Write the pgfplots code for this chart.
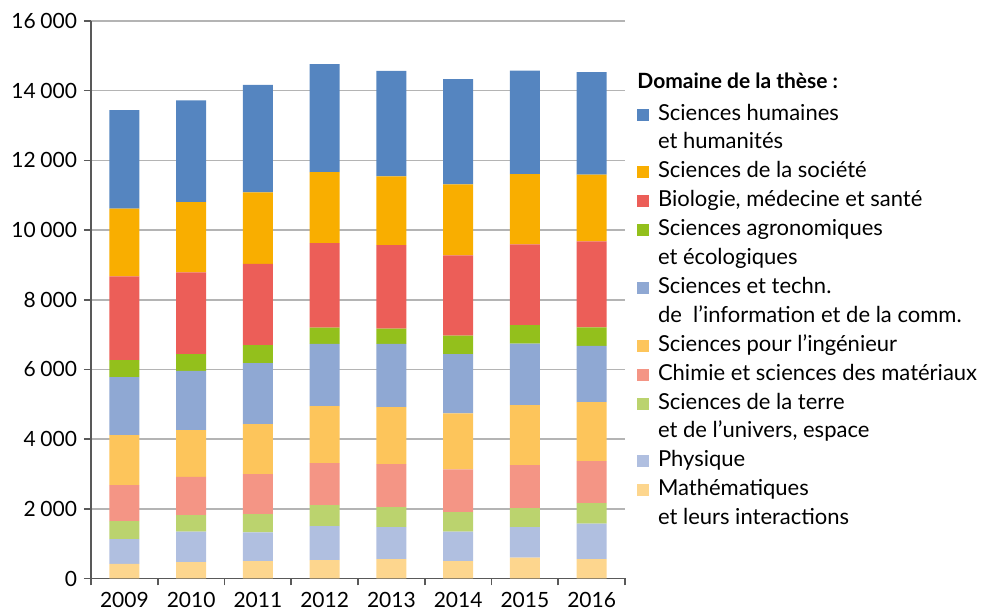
\documentclass[border=0pt]{standalone}
\usepackage{fontspec}
\setmainfont{Lato}
\usepackage{pgfplots}
\pgfplotsset{compat=1.18}
\definecolor{shs}{HTML}{5585C0}
\definecolor{soc}{HTML}{F9AE00}
\definecolor{bio}{HTML}{EC5E58}
\definecolor{agro}{HTML}{93C01C}
\definecolor{stic}{HTML}{8FA8D3}
\definecolor{ing}{HTML}{FDC55B}
\definecolor{chim}{HTML}{F49585}
\definecolor{terre}{HTML}{BBD36E}
\definecolor{phys}{HTML}{B0BFE0}
\definecolor{math}{HTML}{FDD68E}
\definecolor{axisgray}{HTML}{595959}
\definecolor{gridgray}{HTML}{B4B4B4}
\pgfplotsset{sqleg/.style={legend image code/.code={\fill[##1,draw=none] (0pt,-3pt) rectangle (6pt,3pt);}}}
\begin{document}
\begin{tikzpicture}
\useasboundingbox (0,0) rectangle (493.5pt,305pt);
\begin{axis}[
  at={(45.5pt,15.75pt)}, anchor=south west,
  scale only axis, width=267pt, height=278.75pt,
  ymin=0, ymax=16000, xmin=-0.5, xmax=7.5,
  ybar stacked, bar width=0.45,
  axis x line*=bottom, axis y line*=left,
  axis line style={axisgray, line width=0.9pt},
  ytick={0,2000,...,16000}, scaled y ticks=false,
  ymajorgrids, grid style={gridgray, line width=0.8pt},
  xtick={0,...,7}, xticklabels={2009,2010,2011,2012,2013,2014,2015,2016},
  minor xtick={-0.5,0.5,...,7.5},
  tick align=outside,
  major x tick style={draw=none},
  minor x tick style={axisgray, line width=0.8pt},
  major y tick style={axisgray, line width=0.8pt},
  major tick length=3.5pt, minor tick length=3.5pt,
  ticklabel style={font=\fontsize{10.5}{12}\selectfont, text=black},
  /pgf/number format/.cd, 1000 sep={\hspace{0.22em}}, assume math mode=true,
  /pgfplots/.cd,
  legend style={at={(axis description cs:1.0225,0.851)}, anchor=north west,
    draw=none, fill=none, inner sep=0pt, outer sep=0pt,
    column sep=4.5pt, row sep=3.95pt,
    nodes={inner sep=0pt, text height=8pt, text depth=2.5pt, font=\fontsize{11}{13}\selectfont}},
  legend cell align=left,
]
\addplot[fill=math, draw=none, forget plot] coordinates {(0,416) (1,473) (2,502) (3,530) (4,559) (5,502) (6,597) (7,559)};
\addplot[fill=phys, draw=none, forget plot] coordinates {(0,716) (1,870) (2,822) (3,975) (4,918) (5,841) (6,880) (7,1013)};
\addplot[fill=terre, draw=none, forget plot] coordinates {(0,517) (1,477) (2,525) (3,602) (4,573) (5,564) (6,544) (7,593)};
\addplot[fill=chim, draw=none, forget plot] coordinates {(0,1032) (1,1099) (2,1147) (3,1204) (4,1233) (5,1223) (6,1233) (7,1204)};
\addplot[fill=ing, draw=none, forget plot] coordinates {(0,1433) (1,1338) (2,1433) (3,1635) (4,1634) (5,1606) (6,1720) (7,1691)};
\addplot[fill=stic, draw=none, forget plot] coordinates {(0,1663) (1,1701) (2,1749) (3,1786) (4,1815) (5,1700) (6,1768) (7,1615)};
\addplot[fill=agro, draw=none, forget plot] coordinates {(0,487) (1,478) (2,516) (3,470) (4,440) (5,536) (6,526) (7,535)};
\addplot[fill=bio, draw=none, forget plot] coordinates {(0,2409) (1,2351) (2,2332) (3,2426) (4,2399) (5,2303) (6,2322) (7,2466)};
\addplot[fill=soc, draw=none, forget plot] coordinates {(0,1941) (1,2016) (2,2055) (3,2035) (4,1969) (5,2035) (6,2016) (7,1912)};
\addplot[fill=shs, draw=none, forget plot] coordinates {(0,2826) (1,2916) (2,3087) (3,3096) (4,3030) (5,3020) (6,2973) (7,2942)};
\addlegendimage{sqleg, fill=shs}\addlegendentry{Sciences humaines}
\addlegendimage{empty legend}\addlegendentry{et humanités}
\addlegendimage{sqleg, fill=soc}\addlegendentry{Sciences de la société}
\addlegendimage{sqleg, fill=bio}\addlegendentry{Biologie, médecine et santé}
\addlegendimage{sqleg, fill=agro}\addlegendentry{Sciences agronomiques}
\addlegendimage{empty legend}\addlegendentry{et écologiques}
\addlegendimage{sqleg, fill=stic}\addlegendentry{Sciences et techn.}
\addlegendimage{empty legend}\addlegendentry{de \ l’information et de la comm.}
\addlegendimage{sqleg, fill=ing}\addlegendentry{Sciences pour l’ingénieur}
\addlegendimage{sqleg, fill=chim}\addlegendentry{Chimie et sciences des matériaux}
\addlegendimage{sqleg, fill=terre}\addlegendentry{Sciences de la terre}
\addlegendimage{empty legend}\addlegendentry{et de l’univers, espace}
\addlegendimage{sqleg, fill=phys}\addlegendentry{Physique}
\addlegendimage{sqleg, fill=math}\addlegendentry{Mathématiques}
\addlegendimage{empty legend}\addlegendentry{et leurs interactions}
\end{axis}
\node[anchor=base west, inner sep=0pt, font=\bfseries\fontsize{10.5}{12}\selectfont] at (318.5pt,260.5pt) {Domaine de la thèse :};
\end{tikzpicture}
\end{document}
